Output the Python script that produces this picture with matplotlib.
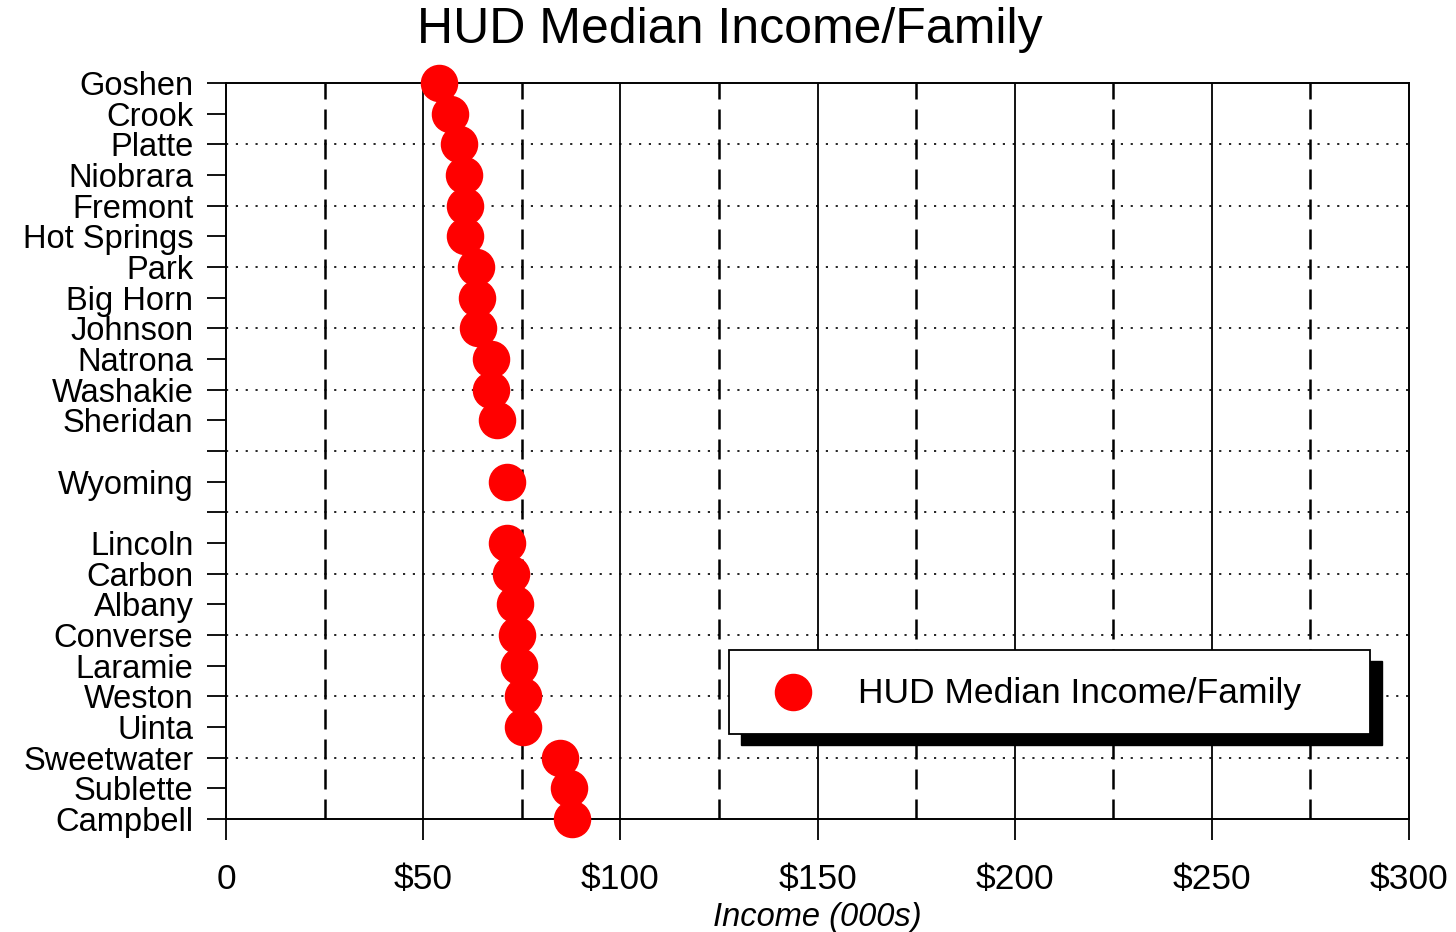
import numpy as np
import matplotlib.pyplot as plt
from matplotlib.patches import Rectangle
from matplotlib.lines import Line2D

plt.rcParams['font.family'] = ['Liberation Sans', 'DejaVu Sans']

# rows top to bottom, '' = spacer row
counties = ['Goshen', 'Crook', 'Platte', 'Niobrara', 'Fremont', 'Hot Springs',
            'Park', 'Big Horn', 'Johnson', 'Natrona', 'Washakie', 'Sheridan',
            '', 'Wyoming', '',
            'Lincoln', 'Carbon', 'Albany', 'Converse', 'Laramie', 'Weston',
            'Uinta', 'Sweetwater', 'Sublette', 'Campbell']
income = [54.0, 56.7, 59.0, 60.3, 60.5, 60.7,
          63.3, 63.7, 63.9, 67.3, 67.3, 68.6,
          None, 71.2, None,
          71.2, 72.3, 73.3, 73.8, 74.2, 75.4,
          75.4, 84.6, 87.0, 87.7]
xticks = [0, 50, 100, 150, 200, 250, 300]
xticklabels = ['0', '$50', '$100', '$150', '$200', '$250', '$300']
series_name = 'HUD Median Income/Family'

W, H = 1456, 932
fig = plt.figure(figsize=(W / 100, H / 100), dpi=100)
ax = fig.add_axes([226 / W, 1 - 819 / H, (1409 - 226) / W, (819 - 83) / H])

pos = np.arange(len(counties))
xs = [v for v in income if v is not None]
ys = [p for p, v in zip(pos, income) if v is not None]

# grid
for p in pos[2:-1:2]:
    ax.axhline(p, color='black', lw=1.2, ls=(0, (1.3, 4.6)), zorder=1)
for x in range(25, 300, 25):
    if x % 50 == 0:
        ax.axvline(x, color='black', lw=1.3, zorder=1)
    else:
        ax.axvline(x, color='black', lw=1.8, ls=(0, (8, 4)), zorder=1)

ax.plot(xs, ys, 'o', color='#ff0000', ms=26, mec='#ff0000', ls='none',
        clip_on=False, zorder=3)

ax.set_xlim(0, 300)
ax.set_ylim(len(counties) - 1, 0)
ax.set_yticks(pos)
ax.set_yticklabels(counties, fontsize=23.5)
ax.set_xticks(xticks)
ax.set_xticklabels(xticklabels, fontsize=25.5)
ax.tick_params(axis='y', direction='out', length=13.5, width=1.3, pad=10)
ax.tick_params(axis='x', direction='out', length=15, width=1.3, pad=17)
for s in ax.spines.values():
    s.set_linewidth(1.4)

ax.set_xlabel('Income (000s)', fontsize=23.5, style='italic', labelpad=4)
fig.text(730 / W, 1 - 30 / H, series_name, fontsize=36, ha='center', va='center')

# legend box with hard black shadow
bx, by, bw, bh = 729 / W, 1 - 734 / H, 641 / W, 84 / H
fig.add_artist(Rectangle((bx + 12 / W, by - 11 / H), bw, bh, transform=fig.transFigure,
                         facecolor='black', edgecolor='black', zorder=5))
fig.add_artist(Rectangle((bx, by), bw, bh, transform=fig.transFigure,
                         facecolor='white', edgecolor='black', lw=1.3, zorder=6))
fig.add_artist(Line2D([793 / W], [1 - 692 / H], marker='o', ms=26, color='#ff0000',
                      transform=fig.transFigure, zorder=7))
fig.text(858 / W, 1 - 693 / H, series_name, fontsize=25.5, ha='left', va='center', zorder=7)

fig.savefig('out.png', dpi=100)
